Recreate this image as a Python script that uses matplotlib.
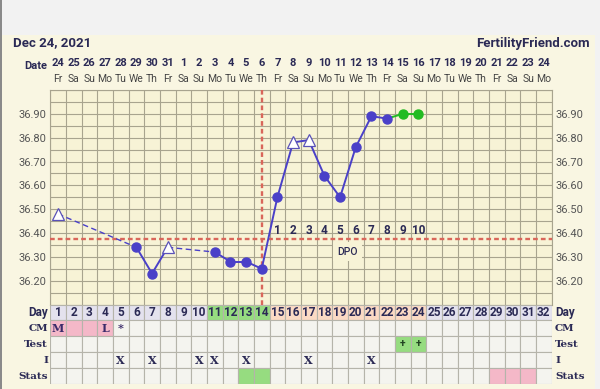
import matplotlib
matplotlib.use('Agg')
import matplotlib.pyplot as plt
from matplotlib.patches import Rectangle
from matplotlib.transforms import blended_transform_factory as blend

plt.rcParams['font.family'] = ['Roboto', 'DejaVu Sans']

# 数据
days = list(range(1, 33))
dates = [str(d) for d in range(24, 32)] + [str(d) for d in range(1, 25)]
weekdays = (['Fr', 'Sa', 'Su', 'Mo', 'Tu', 'We', 'Th'] * 5)[:32]

bbt_days = [1, 6, 7, 8, 11, 12, 13, 14, 15, 16, 17, 18, 19, 20, 21, 22, 23, 24]
bbt = [36.48, 36.34, 36.23, 36.34, 36.32, 36.28, 36.28, 36.25, 36.55, 36.78,
       36.79, 36.64, 36.55, 36.76, 36.89, 36.88, 36.90, 36.90]
open_days = [1, 8, 16, 17]          # discarded temps (triangles)
green_days = [23, 24]
coverline = 36.375
ov_day = 14
dpo_days = list(range(15, 25))
dpo_labels = [str(i) for i in range(1, 11)]
ytick_vals = [36.2, 36.3, 36.4, 36.5, 36.6, 36.7, 36.8, 36.9]

fertile_days = [11, 12, 13, 14]
luteal_days = list(range(15, 25))
cm_pink = [1, 2, 3, 4]
cm_marks = {1: 'M', 4: 'L', 5: '*'}
test_pos = [23, 24]
intercourse = [5, 7, 10, 11, 13, 17, 21]
stats_green = [13, 14]
stats_pink = [29, 30, 31]
row_names = ['Day', 'CM', 'Test', 'I', 'Stats']

# 颜色
NAVY = '#2b2a55'
LINE = '#4a40c8'
GREEN = '#22bb22'
RED = '#d9665a'
GRID = '#a8a48e'
CELL = '#f4f4ef'
LAV = '#e4e2ee'
CGREEN = '#96dc80'
PEACH = '#fbdac4'
PINK = '#f4b8c8'

W, H = 600, 389
fig = plt.figure(figsize=(6, 3.89), dpi=100, facecolor='#f2f2f2')
fig.patches.append(Rectangle((2 / W, 0), 593 / W, 1 - 35 / H, transform=fig.transFigure,
                             facecolor='#f9f6e2', edgecolor='none', zorder=-10))
fig.patches.append(Rectangle((0, 0), 2 / W, 1, transform=fig.transFigure,
                             facecolor='#8a8a8a', edgecolor='none', zorder=-10))

x0, x1 = 50.2, 551.6
ax = fig.add_axes([x0 / W, 1 - 304.5 / H, (x1 - x0) / W, 214.5 / H])
ax.set_facecolor('#f7f3d6')
ax.set_xlim(0.5, 32.5)
ax.set_ylim(36.10, 37.00)
ax.set_xticks([])
ax.set_xticks([d + 0.5 for d in range(0, 33)], minor=True)
ax.set_yticks(ytick_vals)
ax.set_yticklabels(['%.2f' % v for v in ytick_vals])
ax.set_yticks([36.10 + 0.05 * i for i in range(19)], minor=True)
ax.grid(which='both', color=GRID, lw=0.8)
ax.tick_params(which='both', length=0)
ax.tick_params(axis='y', labelleft=True, labelright=True, labelsize=8,
               labelcolor='#555555', pad=3)
for s in ax.spines.values():
    s.set_color(GRID)
    s.set_linewidth(0.8)

# 覆盖线 + 排卵线
ax.axhline(coverline, color=RED, lw=1.7, ls=(0, (2, 1.3)), zorder=3)
ax.axvline(ov_day, color=RED, lw=1.7, ls=(0, (2, 1.3)), zorder=3)

# 体温线
for i in range(len(bbt_days) - 1):
    da, db = bbt_days[i], bbt_days[i + 1]
    col = GREEN if db in green_days else LINE
    if db - da > 1:
        ax.plot([da, db], [bbt[i], bbt[i + 1]], color=col, lw=1.0,
                ls=(0, (4, 2.5)), zorder=4)
    else:
        ax.plot([da, db], [bbt[i], bbt[i + 1]], color=col, lw=1.4, zorder=4)
for d, t in zip(bbt_days, bbt):
    if d in open_days:
        ax.plot(d, t, marker='^', ms=8, mfc='white', mec='#5a52b8', mew=0.9, zorder=5)
    elif d in green_days:
        ax.plot(d, t, 'o', ms=6.5, color=GREEN, zorder=5)
    else:
        ax.plot(d, t, 'o', ms=6.5, color=LINE, zorder=5)

for d, lab in zip(dpo_days, dpo_labels):
    ax.text(d, 36.41, lab, ha='center', va='center', fontsize=8.5,
            fontweight='bold', color=NAVY, zorder=6)
ax.text(19.5, 36.322, 'DPO', ha='center', va='center', fontsize=7.5, color=NAVY,
        fontweight='medium', zorder=6,
        bbox=dict(facecolor='#f7f3d6', edgecolor='none', pad=3))

# 顶部标题
hdr = blend(ax.transData, fig.transFigure)
fig.text(13 / W, 1 - 43 / H, 'Dec 24, 2021', fontsize=9.5, fontweight='bold',
         color=NAVY, va='center')
fig.text(590 / W, 1 - 43 / H, 'FertilityFriend.com', fontsize=9.5, fontweight='bold',
         color=NAVY, va='center', ha='right')
fig.text(36 / W, 1 - 66 / H, 'Date', fontsize=8, fontweight='bold', color=NAVY,
         va='center', ha='center')
for d, dt, wd in zip(days, dates, weekdays):
    ax.text(d, 1 - 63 / H, dt, transform=hdr, ha='center', va='center', fontsize=8,
            fontweight='bold', color=NAVY)
    ax.text(d, 1 - 79 / H, wd, transform=hdr, ha='center', va='center', fontsize=7.5,
            color='#444444')

# 下方表格
tab = fig.add_axes([x0 / W, 1 - 384 / H, (x1 - x0) / W, 79.5 / H])
tab.set_xlim(0.5, 32.5)
tab.set_ylim(5, 0)
tab.axis('off')


def cell_color(row, d):
    if row == 0:
        if d in fertile_days:
            return CGREEN
        if d in luteal_days:
            return PEACH
        return LAV
    if row == 1 and d in cm_pink:
        return PINK
    if row == 2 and d in test_pos:
        return CGREEN
    if row == 4 and d in stats_green:
        return CGREEN
    if row == 4 and d in stats_pink:
        return PINK
    return CELL


for r in range(5):
    for d in days:
        tab.add_patch(Rectangle((d - 0.5, r), 1, 1, facecolor=cell_color(r, d),
                                edgecolor='#b5b4aa', lw=0.8))
for d in days:
    tab.text(d, 0.5, str(d), ha='center', va='center', fontsize=8.5, fontweight='bold',
             color=NAVY)
for d, m in cm_marks.items():
    tab.text(d, 1.5, m, ha='center', va='center', fontsize=8, fontweight='bold',
             family='DejaVu Serif', color='#3a2a6a')
for d in test_pos:
    tab.text(d, 2.5, '+', ha='center', va='center', fontsize=7.5, fontweight='bold',
             color='#224422')
for d in intercourse:
    tab.text(d, 3.5, 'X', ha='center', va='center', fontsize=8, fontweight='bold',
             family='DejaVu Serif', color=NAVY)

rowt = blend(fig.transFigure, tab.transData)
for r, name in enumerate(row_names):
    fam = 'Roboto' if r == 0 else 'DejaVu Serif'
    fs = 8.5 if r == 0 else 7.5
    tab.text(48 / W, r + 0.5, name, transform=rowt, ha='right', va='center',
             fontsize=fs, fontweight='bold', family=fam, color=NAVY)
    tab.text(555 / W, r + 0.5, name, transform=rowt, ha='left', va='center',
             fontsize=fs, fontweight='bold', family=fam, color=NAVY)

fig.savefig('out.png', dpi=100, facecolor=fig.get_facecolor())
